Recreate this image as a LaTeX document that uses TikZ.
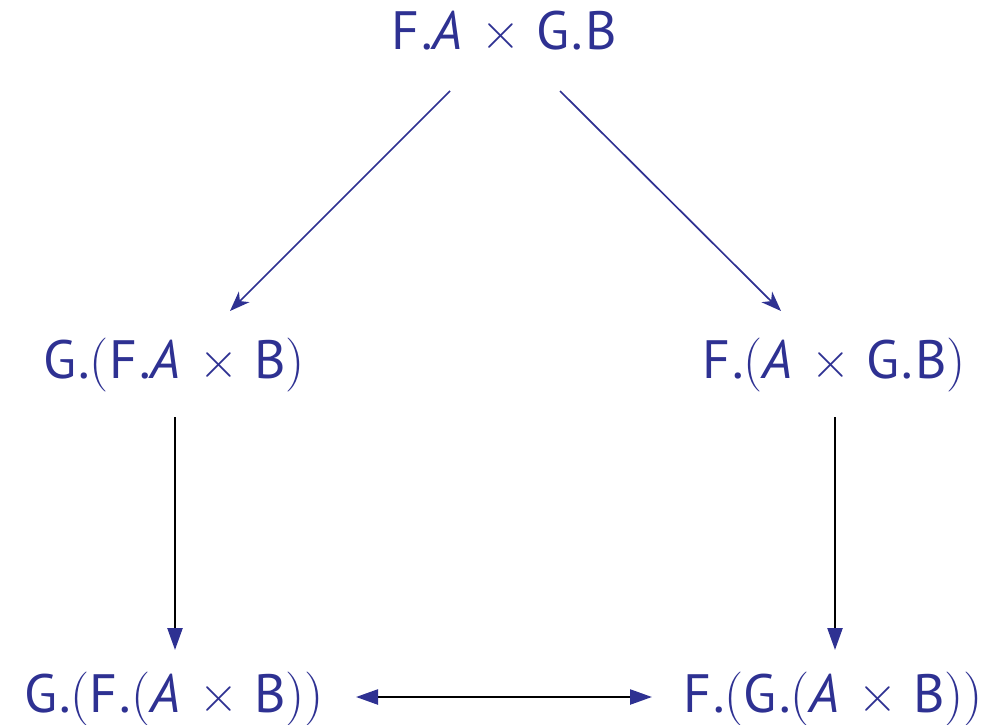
\documentclass[tikz,border=0pt]{standalone}
\usepackage{fontspec}
\setmainfont{PT Sans}[LetterSpace=4]
\newfontfamily\lmfont{Latin Modern Roman}
\usetikzlibrary{arrows.meta}
\definecolor{dblue}{RGB}{46,49,146}
\newcommand{\tx}{\hspace{0.3em}{\lmfont ×}\hspace{0.3em}}
\newcommand{\lp}{{\lmfont (}}
\newcommand{\rp}{{\lmfont )}}
\begin{document}
\begin{tikzpicture}[x=1pt,y=-1pt,
  lbl/.style={anchor=base,inner sep=0pt,text=dblue,font=\fontsize{54}{60}\selectfont},
  diag/.style={draw=dblue,line width=1.7pt,-{Stealth[length=20pt,width=15pt,inset=6pt,color=dblue]}},
  vert/.style={draw=black,line width=2.4pt,-{Triangle[length=22pt,width=15pt,color=dblue]}},
  both/.style={draw=black,line width=2.4pt,{Triangle[length=22pt,width=15pt,color=dblue]}-{Triangle[length=22pt,width=15pt,color=dblue]}}]
\useasboundingbox (0,0) rectangle (998,725);
\node[lbl] (top) at (504,50) {F.\textit{A}\tx G.B};
\node[lbl] (ml) at (174,378) {G.\lp F.\textit{A}\tx B\rp};
\node[lbl] (mr) at (834,378) {F.\lp\textit{A}\tx G.B\rp};
\node[lbl] (bl) at (174,712) {G.\lp F.\lp\textit{A}\tx B\rp\rp};
\node[lbl] (br) at (833,712) {F.\lp G.\lp\textit{A}\tx B\rp\rp};
\draw[diag] ([shift={(-54,41)}]top.base) -- ([shift={(56,-67)}]ml.base);
\draw[diag] ([shift={(56,41)}]top.base) -- ([shift={(-53,-67)}]mr.base);
\draw[vert] ([shift={(1,39)}]ml.base) -- ([shift={(1,-62)}]bl.base);
\draw[vert] ([shift={(1,39)}]mr.base) -- ([shift={(2,-62)}]br.base);
\draw[both] ([shift={(182,-15)}]bl.base) -- ([shift={(-181,-15)}]br.base);
\end{tikzpicture}
\end{document}
